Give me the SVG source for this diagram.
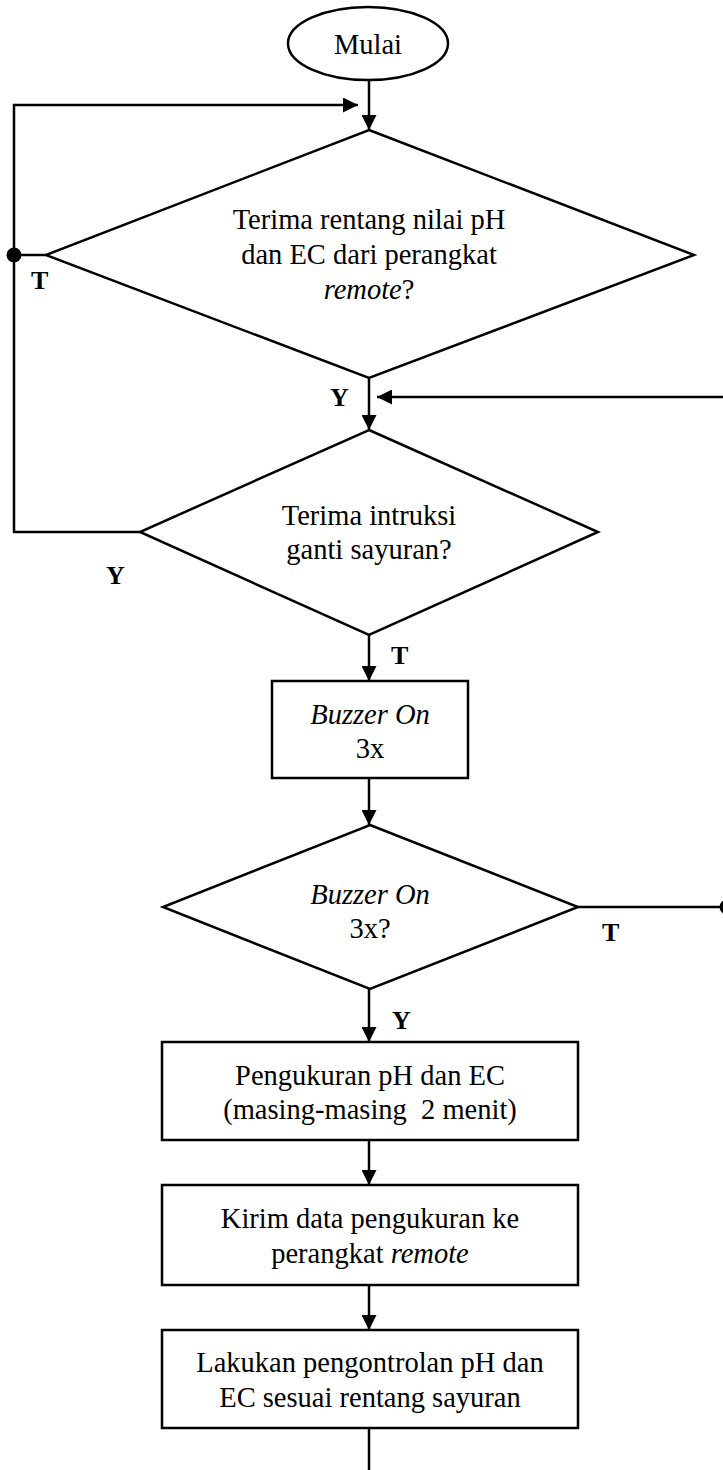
<svg xmlns="http://www.w3.org/2000/svg" width="723" height="1470" viewBox="0 0 723 1470">
  <style>
    .shape { fill: #fff; stroke: #000; stroke-width: 2.5; }
    .line { fill: none; stroke: #000; stroke-width: 2.5; }
    .txt { font-family: "Liberation Serif", "Times New Roman", serif; font-size: 28.5px; fill: #000; text-anchor: middle; }
    .it { font-style: italic; }
    .lbl { font-family: "Liberation Serif", "Times New Roman", serif; font-size: 26px; font-weight: bold; fill: #000; }
  </style>
  <defs>
    <marker id="arrow" markerUnits="userSpaceOnUse" markerWidth="15" markerHeight="15" refX="15" refY="7.5" orient="auto">
      <path d="M0,0 L15,7.5 L0,15 z" fill="#000"/>
    </marker>
  </defs>
  <rect width="723" height="1470" fill="#fff"/>

  <!-- connectors -->
  <g id="connectors">
    <line class="line" x1="369" y1="80" x2="369" y2="130" marker-end="url(#arrow)"/>
    <!-- loop back from "ganti sayuran" (Y) to the top -->
    <polyline class="line" points="140,532 14,532 14,105 358,105" marker-end="url(#arrow)"/>
    <!-- T branch of first decision joins the loop -->
    <line class="line" x1="14" y1="255" x2="46" y2="255"/>
    <circle cx="14" cy="255" r="7.5" fill="#000"/>
    <line class="line" x1="369" y1="378" x2="369" y2="430" marker-end="url(#arrow)"/>
    <!-- return from the right -->
    <line class="line" x1="730" y1="397" x2="377" y2="397" marker-end="url(#arrow)"/>
    <line class="line" x1="369" y1="635" x2="369" y2="681" marker-end="url(#arrow)"/>
    <line class="line" x1="369" y1="778" x2="369" y2="825" marker-end="url(#arrow)"/>
    <line class="line" x1="578" y1="907" x2="727" y2="907"/>
    <circle cx="727" cy="907" r="7.5" fill="#000"/>
    <line class="line" x1="369" y1="989" x2="369" y2="1042" marker-end="url(#arrow)"/>
    <line class="line" x1="369" y1="1140" x2="369" y2="1185" marker-end="url(#arrow)"/>
    <line class="line" x1="369" y1="1285" x2="369" y2="1330" marker-end="url(#arrow)"/>
    <line class="line" x1="369" y1="1428" x2="369" y2="1470"/>

    <text class="lbl" x="31" y="289">T</text>
    <text class="lbl" x="330" y="406">Y</text>
    <text class="lbl" x="106" y="584">Y</text>
    <text class="lbl" x="391" y="664">T</text>
    <text class="lbl" x="602" y="941">T</text>
    <text class="lbl" x="392" y="1029">Y</text>
  </g>

  <g id="start">
    <ellipse class="shape" cx="368" cy="43.5" rx="80" ry="36.5"/>
    <text class="txt" x="368" y="54">Mulai</text>
  </g>

  <g id="decision-range">
    <polygon class="shape" points="369,130 694,255 369,378 46,255"/>
    <text class="txt" x="369" y="229">Terima rentang nilai pH</text>
    <text class="txt" x="369" y="264">dan EC dari perangkat</text>
    <text class="txt" x="369" y="299"><tspan class="it">remote</tspan>?</text>
  </g>

  <g id="decision-change">
    <polygon class="shape" points="369,430 598,532 369,635 140,532"/>
    <text class="txt" x="369" y="525">Terima intruksi</text>
    <text class="txt" x="369" y="559">ganti sayuran?</text>
  </g>

  <g id="buzzer">
    <rect class="shape" x="272" y="681" width="196" height="97"/>
    <text class="txt it" x="370" y="724">Buzzer On</text>
    <text class="txt" x="370" y="758">3x</text>
  </g>

  <g id="decision-buzzer">
    <polygon class="shape" points="370,825 578,907 370,989 163,907"/>
    <text class="txt it" x="370" y="904">Buzzer On</text>
    <text class="txt" x="370" y="938">3x?</text>
  </g>

  <g id="measure">
    <rect class="shape" x="162" y="1042" width="416" height="98"/>
    <text class="txt" x="370" y="1085">Pengukuran pH dan EC</text>
    <text class="txt" x="370" y="1119" xml:space="preserve">(masing-masing  2 menit)</text>
  </g>

  <g id="send">
    <rect class="shape" x="162" y="1185" width="416" height="100"/>
    <text class="txt" x="370" y="1228">Kirim data pengukuran ke</text>
    <text class="txt" x="370" y="1263">perangkat <tspan class="it">remote</tspan></text>
  </g>

  <g id="control">
    <rect class="shape" x="162" y="1330" width="416" height="98"/>
    <text class="txt" x="370" y="1372">Lakukan pengontrolan pH dan</text>
    <text class="txt" x="370" y="1407">EC sesuai rentang sayuran</text>
  </g>
</svg>
